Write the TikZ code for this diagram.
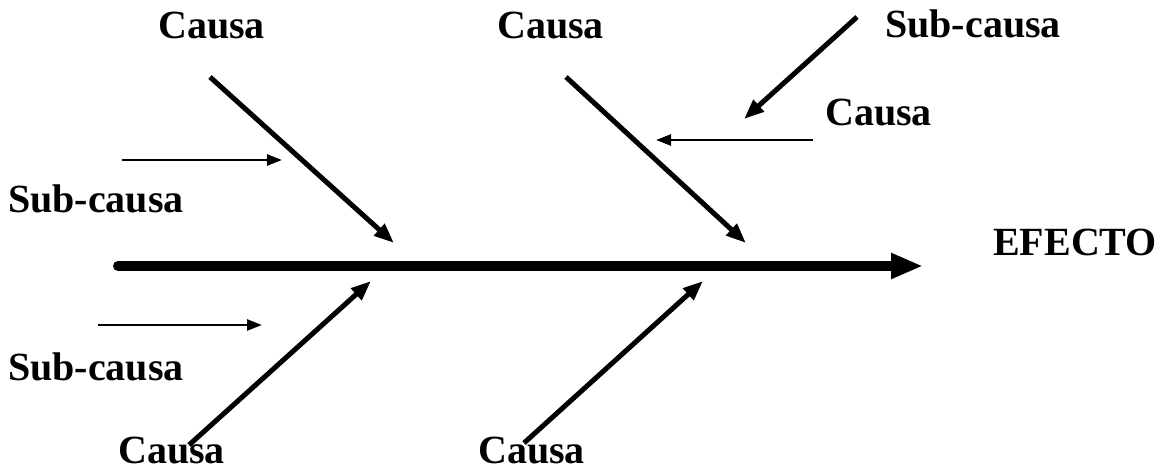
\documentclass[tikz,border=0pt]{standalone}
\usepackage{fontspec}
\setmainfont{Liberation Serif}
\usetikzlibrary{arrows.meta}
\begin{document}
\begin{tikzpicture}[x=1pt,y=-1pt,
  lbl/.style={anchor=base west,inner sep=0pt,font=\fontsize{40}{48}\selectfont\bfseries},
  spine/.style={line width=10pt,line cap=round,-{Triangle[length=32pt,width=24pt]}},
  cause/.style={line width=5pt,-{Triangle[length=20pt,width=15pt]}},
  subcause/.style={line width=2.6pt,-{Triangle[length=15pt,width=11pt]}}]
\useasboundingbox (0,0) rectangle (1159,471);
% labels
\node[lbl] (t1) at (158,38) {Causa};
\node[lbl] (t2) at (497,38) {Causa};
\node[lbl] (t3) at (885,37) {Sub-causa};
\node[lbl] (t4) at (825,125) {Causa};
\node[lbl] (t5) at (8,212) {Sub-causa};
\node[lbl] (ef) at (993,255) {EFECTO};
\node[lbl] (t6) at (8,380) {Sub-causa};
\node[lbl] (b1) at (118,463) {Causa};
\node[lbl] (b2) at (478,463) {Causa};
% coordinates
\coordinate (s0) at (118,266);
\coordinate (s1) at (923,266);
\coordinate (a0) at (210,77);   \coordinate (a1) at (394,243);
\coordinate (b0) at (566,77);   \coordinate (b1e) at (746,243);
\coordinate (c0) at (857,17);   \coordinate (c1) at (744,119);
\coordinate (d0) at (813,140);  \coordinate (d1) at (656,140);
\coordinate (e0) at (122,160);  \coordinate (e1) at (282,160);
\coordinate (f0) at (98,325);   \coordinate (f1) at (262,325);
\coordinate (g0) at (189,445);  \coordinate (g1) at (371,281);
\coordinate (h0) at (524,443);  \coordinate (h1) at (703,281);
% connectors
\draw[spine] (s0) -- (s1);
\draw[cause] (a0) -- (a1);
\draw[cause] (b0) -- (b1e);
\draw[cause] (c0) -- (c1);
\draw[subcause] (d0) -- (d1);
\draw[subcause] (e0) -- (e1);
\draw[subcause] (f0) -- (f1);
\draw[cause] (g0) -- (g1);
\draw[cause] (h0) -- (h1);
\end{tikzpicture}
\end{document}
